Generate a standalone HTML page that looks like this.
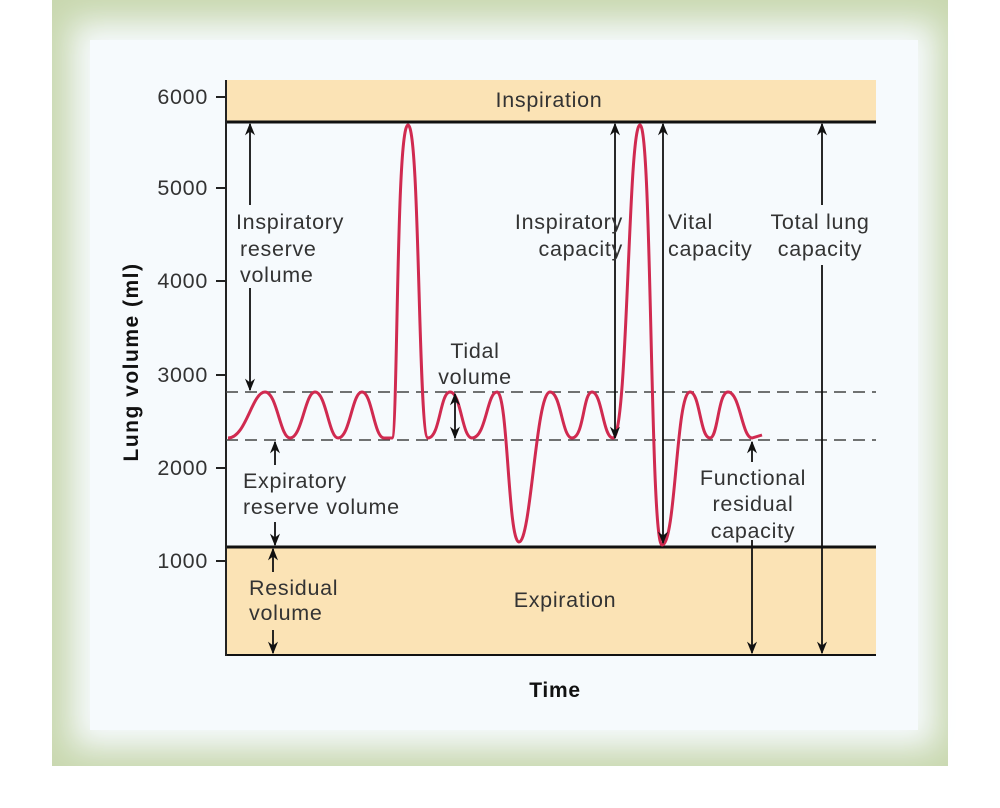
<!DOCTYPE html>
<html><head><meta charset="utf-8"><style>
html,body{margin:0;padding:0;background:#fff;}
body{width:1000px;height:808px;position:relative;overflow:hidden;font-family:"Liberation Sans",sans-serif;}
.frame{position:absolute;left:52px;top:0;width:896px;height:766px;background:#c9d8b0;}
.inner{position:absolute;left:90px;top:40px;width:828px;height:690px;background:#f6fafd;box-shadow:0 0 30px 18px #f6fafd;}
svg{position:absolute;left:0;top:0;}
text{font-family:"Liberation Sans",sans-serif;font-size:21.5px;letter-spacing:0.7px;fill:#333;}
</style></head><body>
<div class="frame"></div><div class="inner"></div>
<svg width="1000" height="808" viewBox="0 0 1000 808">
<defs><marker id="a" viewBox="0 0 10 10" refX="9" refY="5" markerWidth="7" markerHeight="9" orient="auto-start-reverse"><path d="M0,1 L10,5 L0,9 L3,5z" fill="#111"/></marker></defs>
<rect x="226" y="80" width="650" height="42" fill="#fbe3b5"/>
<rect x="226" y="547" width="650" height="108" fill="#fbe3b5"/>
<line x1="226" y1="122" x2="876" y2="122" stroke="#111" stroke-width="3"/>
<line x1="226" y1="547" x2="876" y2="547" stroke="#111" stroke-width="3"/>
<line x1="226" y1="655" x2="876" y2="655" stroke="#111" stroke-width="2"/>
<line x1="226" y1="80" x2="226" y2="656" stroke="#222" stroke-width="2"/>
<g stroke="#222" stroke-width="2">
<line x1="216" y1="97" x2="226" y2="97"/><line x1="216" y1="188" x2="226" y2="188"/><line x1="216" y1="281" x2="226" y2="281"/><line x1="216" y1="375" x2="226" y2="375"/><line x1="216" y1="468" x2="226" y2="468"/><line x1="216" y1="561" x2="226" y2="561"/></g>
<g text-anchor="end"><text x="208" y="104">6000</text><text x="208" y="195">5000</text><text x="208" y="288">4000</text><text x="208" y="382">3000</text><text x="208" y="475">2000</text><text x="208" y="568">1000</text></g>
<text transform="translate(138,362) rotate(-90)" text-anchor="middle" style="font-weight:bold;font-size:21px;letter-spacing:1.5px;fill:#111">Lung volume (ml)</text>
<text x="555" y="697" text-anchor="middle" style="font-weight:bold;font-size:21px;fill:#111">Time</text>
<g stroke="#444" stroke-width="1.5" stroke-dasharray="12,7"><line x1="226" y1="392" x2="876" y2="392"/><line x1="226" y1="440" x2="876" y2="440"/></g>
<path d="M228,438 C246,438 252,392 265,392 C277,392 280,438 290,438 C302,438 305,392 315,392 C326,392 329,438 338,438 C350,438 352,392 362,392 C372,392 374,438 384,438 L392,438 C398,438 396,125 408,125 C420,125 418,438 428,438 C440,438 440,392 450,392 C461,392 462,438 472,438 C486,438 487,392 497,392 C508,392 508,542 519,542 C531,542 536,392 550,392 C561,392 562,438 572,438 C584,438 583,392 592,392 C602,392 603,438 613,438 C628,438 628,125 640,125 C652,125 650,545 662,545 C676,545 676,392 690,392 C700,392 700,438 710,438 C718,438 718,392 728,392 C740,392 742,438 752,438 L762,435" fill="none" stroke="#d02a50" stroke-width="3"/>
<g stroke="#111" stroke-width="1.8" fill="none">
<line x1="250" y1="124" x2="250" y2="205" marker-start="url(#a)"/>
<line x1="250" y1="288" x2="250" y2="390" marker-end="url(#a)"/>
<line x1="275" y1="465" x2="275" y2="442" marker-end="url(#a)"/>
<line x1="275" y1="522" x2="275" y2="545" marker-end="url(#a)"/>
<line x1="273" y1="572" x2="273" y2="549" marker-end="url(#a)"/>
<line x1="273" y1="630" x2="273" y2="653" marker-end="url(#a)"/>
<line x1="455" y1="394" x2="455" y2="438" marker-start="url(#a)" marker-end="url(#a)"/>
<line x1="615" y1="124" x2="615" y2="438" marker-start="url(#a)" marker-end="url(#a)"/>
<line x1="663" y1="124" x2="663" y2="543" marker-start="url(#a)" marker-end="url(#a)"/>
<line x1="822" y1="124" x2="822" y2="205" marker-start="url(#a)"/>
<line x1="822" y1="265" x2="822" y2="653" marker-end="url(#a)"/>
<line x1="752" y1="462" x2="752" y2="442" marker-end="url(#a)"/>
<line x1="752" y1="540" x2="752" y2="653" marker-end="url(#a)"/>
</g>
<text x="549" y="107" text-anchor="middle">Inspiration</text>
<text x="565" y="607" text-anchor="middle">Expiration</text>
<text x="236" y="229">Inspiratory</text><text x="240" y="256">reserve</text><text x="240" y="282">volume</text>
<text x="475" y="358" text-anchor="middle">Tidal</text><text x="475" y="384" text-anchor="middle">volume</text>
<text x="623" y="229" text-anchor="end">Inspiratory</text><text x="623" y="256" text-anchor="end">capacity</text>
<text x="668" y="229">Vital</text><text x="668" y="256">capacity</text>
<text x="820" y="229" text-anchor="middle">Total lung</text><text x="820" y="256" text-anchor="middle">capacity</text>
<text x="243" y="488">Expiratory</text><text x="243" y="514">reserve volume</text>
<text x="249" y="595">Residual</text><text x="249" y="620">volume</text>
<text x="753" y="485" text-anchor="middle">Functional</text><text x="753" y="511" text-anchor="middle">residual</text><text x="753" y="538" text-anchor="middle">capacity</text>
</svg>
</body></html>
